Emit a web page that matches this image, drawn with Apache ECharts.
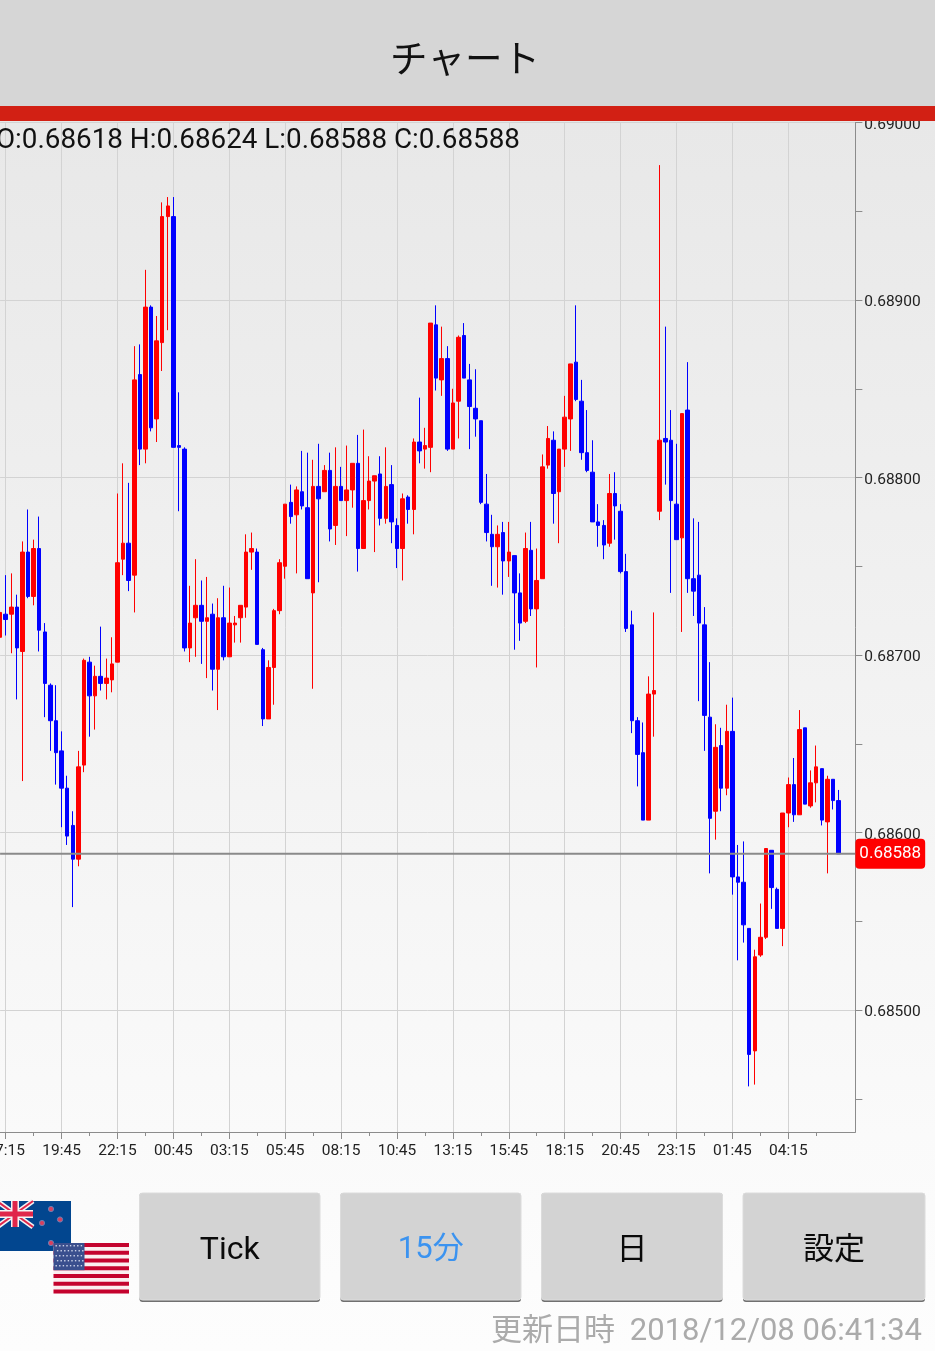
<!DOCTYPE html>
<html><head><meta charset="utf-8">
<style>html,body{margin:0;padding:0;background:#fff;overflow:hidden}#c{width:935px;height:1351px}</style>
<script src="https://cdn.jsdelivr.net/npm/echarts@6/dist/echarts.min.js"></script>
</head><body><div id="c"></div>
<script>
var startTime = '17:00';
var trailingEmptySlots = 3;
var opens = [
0.68710,0.68723,0.68723,0.68727,0.68702,0.68758,0.68733,0.68760,0.68713,0.68683,
0.68663,0.68646,0.68625,0.68604,0.68585,0.68638,0.68696,0.68677,0.68688,0.68684,
0.68686,0.68696,0.68754,0.68763,0.68745,0.68858,0.68816,0.68896,0.68833,0.68876,
0.68947,0.68947,0.68818,0.68816,0.68704,0.68721,0.68728,0.68719,0.68723,0.68692,
0.68721,0.68699,0.68717,0.68721,0.68727,0.68758,0.68758,0.68703,0.68664,0.68693,
0.68725,0.68750,0.68786,0.68779,0.68792,0.68783,0.68735,0.68795,0.68792,0.68804,
0.68773,0.68795,0.68787,0.68793,0.68808,0.68760,0.68787,0.68798,0.68802,0.68777,
0.68796,0.68773,0.68760,0.68789,0.68782,0.68820,0.68816,0.68817,0.68886,0.68855,
0.68867,0.68816,0.68843,0.68880,0.68855,0.68839,0.68832,0.68785,0.68768,0.68761,
0.68769,0.68753,0.68756,0.68735,0.68719,0.68759,0.68726,0.68743,0.68807,0.68821,
0.68792,0.68816,0.68833,0.68865,0.68843,0.68814,0.68803,0.68775,0.68773,0.68763,
0.68791,0.68781,0.68747,0.68717,0.68663,0.68645,0.68607,0.68678,0.68781,0.68822,
0.68821,0.68785,0.68766,0.68838,0.68743,0.68745,0.68717,0.68665,0.68612,0.68649,
0.68625,0.68657,0.68575,0.68572,0.68546,0.68477,0.68531,0.68541,0.68590,0.68568,
0.68546,0.68611,0.68627,0.68610,0.68659,0.68615,0.68628,0.68636,0.68606,0.68630,
0.68618];
var highs = [
0.68750,0.68745,0.68746,0.68734,0.68764,0.68782,0.68765,0.68778,0.68718,0.68684,
0.68683,0.68657,0.68632,0.68612,0.68646,0.68698,0.68699,0.68694,0.68716,0.68698,
0.68710,0.68791,0.68808,0.68797,0.68874,0.68875,0.68917,0.68897,0.68891,0.68955,
0.68958,0.68958,0.68848,0.68817,0.68739,0.68754,0.68742,0.68744,0.68729,0.68732,
0.68739,0.68738,0.68722,0.68728,0.68768,0.68769,0.68760,0.68704,0.68697,0.68726,
0.68754,0.68785,0.68796,0.68795,0.68815,0.68814,0.68810,0.68819,0.68807,0.68814,
0.68817,0.68806,0.68818,0.68808,0.68824,0.68827,0.68812,0.68801,0.68812,0.68817,
0.68807,0.68777,0.68791,0.68790,0.68822,0.68845,0.68828,0.68887,0.68897,0.68885,
0.68874,0.68850,0.68880,0.68887,0.68864,0.68861,0.68832,0.68802,0.68779,0.68773,
0.68775,0.68775,0.68756,0.68746,0.68769,0.68775,0.68760,0.68813,0.68829,0.68826,
0.68816,0.68846,0.68864,0.68897,0.68855,0.68838,0.68821,0.68785,0.68776,0.68802,
0.68803,0.68785,0.68757,0.68725,0.68665,0.68662,0.68688,0.68724,0.68976,0.68885,
0.68838,0.68819,0.68836,0.68865,0.68777,0.68775,0.68727,0.68696,0.68661,0.68659,
0.68672,0.68676,0.68593,0.68595,0.68546,0.68534,0.68560,0.68591,0.68590,0.68569,
0.68611,0.68631,0.68642,0.68669,0.68659,0.68635,0.68649,0.68636,0.68632,0.68630,
0.68624];
var lows = [
0.68679,0.68711,0.68701,0.68675,0.68629,0.68732,0.68728,0.68702,0.68665,0.68646,
0.68627,0.68603,0.68593,0.68558,0.68581,0.68634,0.68654,0.68658,0.68680,0.68675,
0.68679,0.68696,0.68745,0.68736,0.68724,0.68807,0.68808,0.68826,0.68820,0.68860,
0.68883,0.68817,0.68781,0.68702,0.68696,0.68699,0.68695,0.68687,0.68680,0.68669,
0.68697,0.68699,0.68707,0.68707,0.68721,0.68748,0.68706,0.68660,0.68664,0.68672,
0.68723,0.68743,0.68774,0.68746,0.68782,0.68743,0.68681,0.68741,0.68792,0.68764,
0.68762,0.68787,0.68767,0.68783,0.68747,0.68760,0.68782,0.68758,0.68773,0.68774,
0.68763,0.68749,0.68742,0.68774,0.68768,0.68808,0.68805,0.68803,0.68849,0.68846,
0.68815,0.68816,0.68822,0.68856,0.68816,0.68823,0.68785,0.68764,0.68739,0.68738,
0.68734,0.68744,0.68703,0.68708,0.68718,0.68722,0.68693,0.68743,0.68805,0.68774,
0.68763,0.68806,0.68815,0.68843,0.68810,0.68803,0.68775,0.68761,0.68754,0.68761,
0.68765,0.68746,0.68713,0.68656,0.68626,0.68607,0.68607,0.68654,0.68776,0.68796,
0.68735,0.68765,0.68713,0.68735,0.68722,0.68674,0.68646,0.68577,0.68596,0.68612,
0.68621,0.68565,0.68528,0.68538,0.68457,0.68458,0.68530,0.68540,0.68557,0.68546,
0.68536,0.68603,0.68606,0.68610,0.68616,0.68614,0.68617,0.68604,0.68577,0.68613,
0.68588];
var closes = [
0.68724,0.68720,0.68727,0.68704,0.68758,0.68733,0.68760,0.68714,0.68684,0.68663,
0.68645,0.68625,0.68598,0.68585,0.68637,0.68697,0.68677,0.68688,0.68684,0.68687,
0.68695,0.68752,0.68763,0.68742,0.68855,0.68816,0.68896,0.68828,0.68877,0.68947,
0.68953,0.68817,0.68817,0.68704,0.68718,0.68728,0.68719,0.68721,0.68692,0.68721,
0.68699,0.68718,0.68718,0.68728,0.68758,0.68760,0.68706,0.68664,0.68693,0.68725,
0.68752,0.68785,0.68778,0.68793,0.68784,0.68743,0.68795,0.68788,0.68804,0.68771,
0.68795,0.68787,0.68793,0.68808,0.68760,0.68787,0.68798,0.68801,0.68777,0.68795,
0.68775,0.68760,0.68788,0.68782,0.68820,0.68815,0.68818,0.68887,0.68856,0.68867,
0.68816,0.68842,0.68879,0.68856,0.68840,0.68833,0.68786,0.68769,0.68761,0.68768,
0.68753,0.68758,0.68735,0.68718,0.68760,0.68726,0.68742,0.68806,0.68822,0.68791,
0.68816,0.68834,0.68864,0.68844,0.68814,0.68804,0.68775,0.68773,0.68762,0.68791,
0.68784,0.68747,0.68715,0.68663,0.68644,0.68607,0.68678,0.68680,0.68821,0.68820,
0.68787,0.68765,0.68836,0.68743,0.68736,0.68718,0.68666,0.68608,0.68648,0.68625,
0.68657,0.68575,0.68572,0.68548,0.68475,0.68530,0.68541,0.68591,0.68569,0.68546,
0.68611,0.68627,0.68610,0.68658,0.68616,0.68628,0.68637,0.68607,0.68630,0.68618,
0.68588];
var labelledPrices = [0.685,0.686,0.687,0.688,0.689,0.69];
var halfPrices = [0.6845,0.6855,0.6865,0.6875,0.6885,0.6895];
var lastPrice = 0.68588;
var ohlcText = 'O:0.68618 H:0.68624 L:0.68588 C:0.68588';
var buttons = ['Tick','15分','日','設定'];

// category axis: one slot per 15 minutes
var categories = [];
(function(){
  var p = startTime.split(':'), m = (+p[0])*60 + (+p[1]);
  for (var i=0;i<opens.length+trailingEmptySlots;i++){
    var t=(m+i*15)%1440, h=Math.floor(t/60), mm=t%60;
    categories.push((h<10?'0':'')+h+':'+(mm<10?'0':'')+mm);
  }
})();
var candleData = categories.map(function(c,i){
  return i<opens.length ? [opens[i],closes[i],lows[i],highs[i]] : '-';
});
var priceLine = [[0,lastPrice],[categories.length-1,lastPrice]];
var lastLabelled = opens.length-5;
function major(i){ return (i-1)%10===0 && i>0 && i<=lastLabelled; }
function minor(i){ return (i-1)%5===0 && i>0 && i<=lastLabelled; }
var G = '#8c8c8c', S = '#d3d3d3';

var chart = echarts.init(document.getElementById('c'), null, {width:935,height:1351});

var g = [];
g.push({type:'rect',z:-10,silent:true,shape:{x:0,y:0,width:935,height:1351},
  style:{fill:new echarts.graphic.LinearGradient(0,0,0,1,[{offset:0,color:'#e6e6e6'},{offset:0.09,color:'#e8e8e8'},{offset:0.84,color:'#fafafa'},{offset:1,color:'#fdfdfd'}])}});
g.push({type:'rect',z:50,silent:true,shape:{x:0,y:0,width:935,height:106},style:{fill:'#d6d6d6'}});
g.push({type:'rect',z:50,silent:true,shape:{x:0,y:106,width:935,height:15},style:{fill:'#d22014'}});
g.push({type:'text',z:51,silent:true,x:465,y:58,style:{text:'チャート',fill:'#111',font:'37.5px "Noto Sans CJK JP"',align:'center',verticalAlign:'middle'}});
g.push({type:'text',z:40,silent:true,x:-4,y:141,style:{text:ohlcText,fill:'#111',font:'27.8px Roboto',align:'left',verticalAlign:'middle'}});

// NZ flag
g.push({type:'rect',z:30,silent:true,shape:{x:-30,y:1201,width:101,height:50},style:{fill:'#02468f'}});
var jack=[[-3,1201,33,1227,'#f4f4f4',5],[-3,1227,33,1201,'#f4f4f4',5],[-3,1201,33,1227,'#e0264a',2],[-3,1227,33,1201,'#e0264a',2],
          [15,1201,15,1227,'#f4f4f4',8],[-3,1214,33,1214,'#f4f4f4',8],[15,1201,15,1227,'#e0264a',5],[-3,1214,33,1214,'#e0264a',5]];
jack.forEach(function(l){g.push({type:'line',z:31,silent:true,shape:{x1:l[0],y1:l[1],x2:l[2],y2:l[3]},style:{stroke:l[4],lineWidth:l[5]}});});
[[51,1209],[60,1219.5],[42,1223],[51,1243]].forEach(function(s){
  g.push({type:'circle',z:31,silent:true,shape:{cx:s[0],cy:s[1],r:2.6},style:{fill:'#d8415f',stroke:'#6a7fb5',lineWidth:1}});
});
// US flag
var fx=53.5,fy=1243,fw=75.5,fh=50.5,rows=13;
g.push({type:'rect',z:32,silent:true,shape:{x:fx,y:fy,width:fw,height:fh},style:{fill:'#fbeef0'}});
for(var r=0;r<rows;r+=2){
  g.push({type:'rect',z:33,silent:true,shape:{x:fx,y:fy+r*fh/rows,width:fw,height:fh/rows},style:{fill:'#c4032e'}});
}
g.push({type:'rect',z:34,silent:true,shape:{x:fx,y:fy,width:31,height:fh*7/13},style:{fill:'#3a4f8e'}});
for(var a=0;a<5;a++)for(var b=0;b<8;b++){
  g.push({type:'rect',z:35,silent:true,shape:{x:fx+2+b*3.6+(a%2)*1.4,y:fy+2+a*5,width:1.4,height:1.4},style:{fill:'#c9d0e6'}});
}
// buttons
var bx=[[139.5,320],[340.5,521],[541.5,722.5],[743,925]];
var bcol=['#0a0a0a','#3b93f0','#0a0a0a','#0a0a0a'];
var bfont=['32px Roboto','31px Roboto,"Noto Sans CJK JP"','31px "Noto Sans CJK JP"','31px "Noto Sans CJK JP"'];
var by=[1251,1250,1247.5,1247.5];
buttons.forEach(function(t,i){
  var x0=bx[i][0],w=bx[i][1]-x0;
  g.push({type:'rect',z:30,silent:true,shape:{x:x0,y:1193,width:w,height:109,r:3},style:{fill:'#707070'}});
  g.push({type:'rect',z:31,silent:true,shape:{x:x0,y:1193,width:w,height:107,r:3},style:{fill:'#d3d3d3',stroke:'#dcdcdc',lineWidth:1}});
  g.push({type:'text',z:32,silent:true,x:x0+w/2,y:by[i],style:{text:t,fill:bcol[i],font:bfont[i],align:'center',verticalAlign:'middle'}});
});
g.push({type:'text',z:30,silent:true,x:491,y:1328.5,style:{text:'更新日時',fill:'#ababab',font:'31px "Noto Sans CJK JP"',align:'left',verticalAlign:'middle'}});
g.push({type:'text',z:30,silent:true,x:922,y:1332,style:{text:'2018/12/08 06:41:34',fill:'#ababab',font:'31px Roboto',align:'right',verticalAlign:'middle'}});

chart.setOption({
  animation:false,
  graphic:g,
  grid:{left:0.1,top:122.5,width:855.27,height:1009.5,containLabel:false,outerBoundsMode:'none'},
  xAxis:[
    {type:'category',data:categories,boundaryGap:false,position:'bottom',
     axisLine:{show:true,lineStyle:{color:G,width:1}},
     axisTick:{show:true,length:7,interval:function(i){return major(i);},lineStyle:{color:G}},
     axisLabel:{show:true,interval:function(i){return major(i);},margin:11,color:'#222',fontFamily:'Roboto',fontSize:15.5,hideOverlap:false},
     splitLine:{show:true,interval:function(i){return major(i);},lineStyle:{color:S,width:1}}},
    {type:'category',data:categories,boundaryGap:false,position:'bottom',
     axisLine:{show:false},
     axisTick:{show:true,length:4,interval:function(i){return minor(i);},lineStyle:{color:G}},
     axisLabel:{show:false},splitLine:{show:false}}
  ],
  yAxis:[
    {type:'value',position:'right',min:0.684313,max:0.69,scale:true,
     axisLine:{show:true,lineStyle:{color:G,width:1}},
     axisTick:{show:true,length:7,customValues:labelledPrices,lineStyle:{color:G}},
     axisLabel:{show:true,customValues:labelledPrices,margin:9,color:'#222',fontFamily:'Roboto',fontSize:15.5,
       formatter:function(v){return '{p|'+(+v).toFixed(5)+'}';},
       rich:{p:{color:'#222',fontFamily:'Roboto',fontSize:15.5,padding:[5,0,0,0]}}},
     splitLine:{show:true,lineStyle:{color:S,width:1}}},
    {type:'value',position:'right',min:0.684313,max:0.69,scale:true,
     axisLine:{show:false},
     axisTick:{show:true,length:7,customValues:halfPrices,lineStyle:{color:G}},
     axisLabel:{show:false},splitLine:{show:false}}
  ],
  series:[{
    type:'candlestick',silent:true,data:candleData,barWidth:4,clip:true,
    itemStyle:{color:'#ff0000',color0:'#0000ff',borderColor:'#ff0000',borderColor0:'#0000ff',borderWidth:1}
  },{
    type:'line',silent:true,data:priceLine,symbol:'none',z:5,clip:false,
    lineStyle:{color:'#8a8a8a',width:2},
    endLabel:{show:true,distance:0,formatter:function(){return lastPrice.toFixed(5);},
      color:'#fff',backgroundColor:'#ff0000',borderRadius:4,padding:[9,4,4,4],fontFamily:'Roboto',fontSize:17}
  }]
});
</script></body></html>
